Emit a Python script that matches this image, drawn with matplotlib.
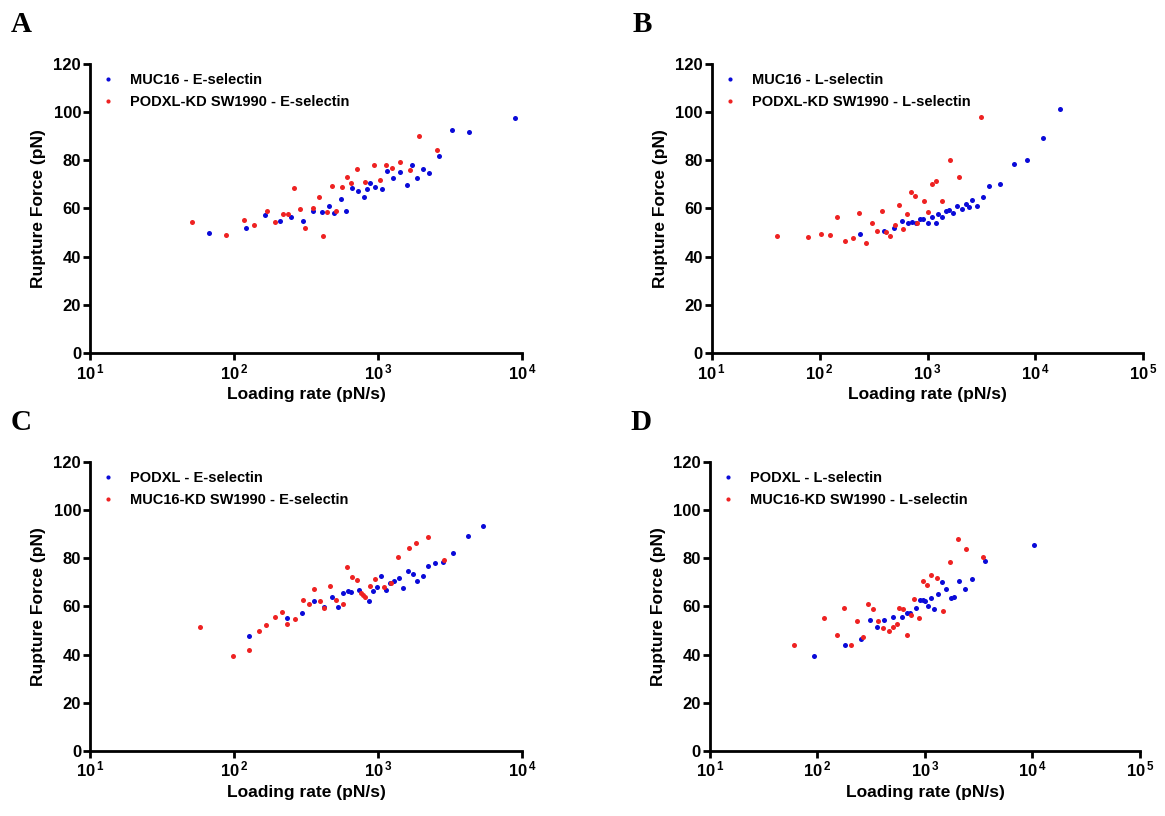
import math
import matplotlib
matplotlib.use("Agg")
import matplotlib.pyplot as plt
from matplotlib.lines import Line2D
from matplotlib.ticker import FixedLocator, FuncFormatter, NullLocator

plt.rcParams['font.family'] = ['Liberation Sans', 'DejaVu Sans']
plt.rcParams['mathtext.fontset'] = 'custom'
plt.rcParams['mathtext.rm'] = 'Liberation Sans:bold'
plt.rcParams['mathtext.bf'] = 'Liberation Sans:bold'

# ---------------- Panel A ----------------
a_blue_x = [9000, 3250, 4270, 2630, 1730, 2040, 1420, 1150, 2270, 1280, 1870, 880, 955, 1590,
            1060, 656, 722, 840, 553, 800, 457, 603, 495, 410, 352, 248, 300, 207, 164, 121, 66.7]
a_blue_y = [97.5, 92.5, 91.6, 81.7, 78, 76.6, 75.2, 75.5, 74.6, 72.8, 72.5, 70.4, 68.8, 69.7,
            67.9, 68.6, 67.3, 67.9, 63.8, 64.6, 61, 59, 58.2, 58.6, 59, 56.6, 54.9, 54.9, 57.4, 52.1, 49.7]
a_red_x = [1940, 2560, 937, 1136, 1250, 1430, 1670, 714, 605, 650, 807, 1030, 480, 562, 260,
           390, 354, 286, 445, 513, 237, 219, 169, 194, 313, 417, 138, 117, 88, 51]
a_red_y = [90.3, 84.4, 78, 78, 76.8, 79.5, 75.9, 76.2, 72.9, 70.4, 71.1, 71.8, 69.2, 68.9, 68.5,
           64.6, 60.3, 59.6, 58.5, 58.8, 57.7, 57.7, 58.9, 54.2, 52.1, 48.5, 53, 55.2, 49, 54.4]

# ---------------- Panel B ----------------
b_blue_x = [16900, 11700, 8420, 6340, 4700, 3690, 3240, 2600, 2890, 2260, 2410, 2090, 1870, 1580,
            1740, 1470, 1260, 1370, 1107, 1190, 1016, 915, 858, 790, 720, 665, 585, 493, 397, 237]
b_blue_y = [101.5, 89.1, 80.1, 78.3, 70.3, 69.3, 64.7, 63.5, 60.9, 61.8, 60.5, 59.6, 61, 59.3,
            58, 58.8, 57.8, 56.3, 56.6, 53.8, 53.8, 55.6, 55.5, 53.8, 54.4, 53.8, 54.8, 51.7, 50.6, 49.5]
b_red_x = [3100, 1630, 1950, 1210, 1100, 705, 770, 926, 1360, 543, 381, 646, 1016, 233, 146,
           309, 500, 806, 597, 343, 412, 449, 102, 124, 203, 172, 267, 78.5, 40.7]
b_red_y = [98, 80.2, 73.2, 71.4, 70, 66.9, 65, 63.1, 63.2, 61.5, 59, 57.8, 58.5, 58.2, 56.3,
           53.8, 53.1, 54.1, 51.3, 50.6, 50.3, 48.7, 49.5, 49, 47.6, 46.5, 45.5, 48.3, 48.4]

# ---------------- Panel C ----------------
c_blue_x = [5330, 4240, 3310, 2840, 2490, 2240, 1616, 1750, 2065, 1877, 1500, 1400, 1285, 1210,
            1140, 1050, 977, 927, 865, 735, 650, 617, 573, 480, 523, 422, 361, 298, 233, 127]
c_blue_y = [93.6, 89.2, 82, 78.5, 77.9, 76.9, 74.7, 73.3, 72.7, 70.5, 67.5, 71.7, 70.5, 69.8,
            66.7, 72.6, 67.9, 66.5, 62.1, 66.8, 66.1, 66.5, 65.6, 63.9, 59.9, 59.9, 62.2, 57.3, 55.3, 47.8]
c_red_x = [2220, 1845, 1633, 1370, 2870, 609, 661, 715, 957, 1230, 873, 1100, 461, 359, 766,
           782, 808, 513, 568, 393, 303, 330, 424, 215, 193, 265, 234, 168, 150, 126, 98, 58]
c_red_y = [88.7, 86.2, 84.4, 80.4, 79.1, 76.3, 72.1, 71, 71.5, 69.6, 68.6, 68.2, 68.5, 67.1, 65.6,
           64.7, 64, 62.5, 61, 62.2, 62.7, 61, 59.3, 57.7, 55.6, 54.6, 52.8, 52.2, 49.9, 41.9, 39.4, 51.3]

# ---------------- Panel D ----------------
d_blue_x = [10300, 3630, 2740, 2070, 2355, 1430, 1556, 1330, 1875, 1735, 1150, 1000, 957, 897,
            1060, 1213, 825, 725, 675, 615, 504, 419, 308, 360, 256, 180, 93]
d_blue_y = [85.6, 78.8, 71.2, 70.4, 67.2, 70, 67.1, 65, 64, 63.4, 63.4, 62.4, 62.7, 62.5,
            60.2, 58.8, 59.5, 57.4, 57.3, 55.7, 55.6, 54.5, 54.2, 51.3, 46.6, 44.1, 39.5]
d_red_x = [2015, 2420, 3480, 1710, 1147, 1283, 957, 1036, 785, 1462, 875, 576, 630, 747, 296,
           330, 177, 114, 233, 367, 409, 459, 507, 545, 680, 152, 268, 205, 60.5]
d_red_y = [87.8, 83.8, 80.6, 78.6, 73, 71.9, 70.7, 68.9, 63.2, 58.1, 55.2, 59.2, 58.9, 56.6, 61,
           58.9, 59.2, 55.2, 53.8, 53.8, 50.9, 49.9, 51.6, 52.6, 48.1, 48.3, 47.4, 44.1, 44.1]

y_ticks = [0, 20, 40, 60, 80, 100, 120]

panels = [
    dict(letter='A', rect=[0.0773, 0.5674, 0.3708, 0.3542], xmax=4,
         bx=a_blue_x, by=a_blue_y, rx=a_red_x, ry=a_red_y,
         labels=['MUC16 - E-selectin', 'PODXL-KD SW1990 - E-selectin']),
    dict(letter='B', rect=[0.6109, 0.5674, 0.3705, 0.3542], xmax=5,
         bx=b_blue_x, by=b_blue_y, rx=b_red_x, ry=b_red_y,
         labels=['MUC16 - L-selectin', 'PODXL-KD SW1990 - L-selectin']),
    dict(letter='C', rect=[0.0773, 0.0797, 0.3708, 0.3542], xmax=4,
         bx=c_blue_x, by=c_blue_y, rx=c_red_x, ry=c_red_y,
         labels=['PODXL - E-selectin', 'MUC16-KD SW1990 - E-selectin']),
    dict(letter='D', rect=[0.6094, 0.0797, 0.3691, 0.3542], xmax=5,
         bx=d_blue_x, by=d_blue_y, rx=d_red_x, ry=d_red_y,
         labels=['PODXL - L-selectin', 'MUC16-KD SW1990 - L-selectin']),
]

BLUE = '#0a0ad8'
RED = '#ee2222'

fig = plt.figure(figsize=(11.65, 8.16), dpi=100)

for p in panels:
    ax = fig.add_axes(p['rect'])
    ax.scatter(p['bx'], p['by'], s=13, color=BLUE, linewidths=0, zorder=3)
    ax.scatter(p['rx'], p['ry'], s=13, color=RED, linewidths=0, zorder=3)
    ax.set_xscale('log')
    ax.set_xlim(10, 10 ** p['xmax'])
    ax.set_ylim(0, 120)
    decades = [10 ** k for k in range(1, p['xmax'] + 1)]
    ax.xaxis.set_major_locator(FixedLocator(decades))
    ax.xaxis.set_minor_locator(NullLocator())
    ax.xaxis.set_major_formatter(FuncFormatter(
        lambda v, pos: r'$\mathbf{10^{\,%d}}$' % round(math.log10(v))))
    ax.set_yticks(y_ticks)
    for s in ['top', 'right']:
        ax.spines[s].set_visible(False)
    for s in ['left', 'bottom']:
        ax.spines[s].set_linewidth(2.0)
    ax.tick_params(axis='both', which='major', direction='out', length=5, width=2.0,
                   labelsize=12, pad=1.5)
    for lab in ax.get_yticklabels():
        lab.set_fontweight('bold')
    ax.set_xlabel('Loading rate (pN/s)', fontsize=12.5, fontweight='bold', labelpad=4)
    ax.set_ylabel('Rupture Force (pN)', fontsize=12.5, fontweight='bold', labelpad=5)
    handles = [Line2D([], [], linestyle='none', marker='o', markersize=3.0,
                      markerfacecolor=BLUE, markeredgewidth=0),
               Line2D([], [], linestyle='none', marker='o', markersize=3.0,
                      markerfacecolor=RED, markeredgewidth=0)]
    ax.legend(handles, p['labels'], loc='upper left', bbox_to_anchor=(0.0, 1.0),
              frameon=False, prop=dict(size=10.5, weight='bold'),
              handlelength=1.2, handletextpad=0.9, labelspacing=0.55, borderaxespad=0.25)
    x0 = p['rect'][0]
    top = p['rect'][1] + p['rect'][3]
    fig.text(x0 - 0.068, top + 0.048, p['letter'], fontsize=21, fontweight='bold',
             family=['Liberation Serif', 'DejaVu Serif'], ha='left', va='center')

fig.savefig('out.png', dpi=100)
